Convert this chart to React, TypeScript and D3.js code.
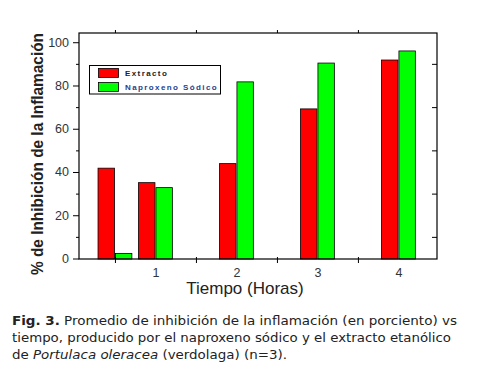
import * as d3 from "d3";

const times = [0.5, 1, 2, 3, 4];
const extracto = [42, 35.3, 44.1, 69.4, 92];
const naproxeno = [2.6, 33, 81.9, 90.6, 96.2];
const xTickLabels = [1, 2, 3, 4];
const xMinorTicks = [0.5, 1.5, 2.5, 3.5];
const yTicks = [0, 20, 40, 60, 80, 100];
const yMinorTicks = [10, 30, 50, 70, 90];
const seriesNames = ["Extracto", "Naproxeno Sódico"];
const seriesColors = ["#ff0000", "#00ff00"];

function App() {
    const plot = { left: 79, top: 33, right: 437, bottom: 259 }
    const xScale = d3.scaleLinear().domain([0.05, 4.47]).range([plot.left, plot.right]);
    const yScale = d3.scaleLinear().domain([0, 104.5]).range([plot.bottom, plot.top]);
    const barW = xScale(0.215) - xScale(0);
    const font = "Liberation Sans, Arial, sans-serif";

    const rows = times.map((t, i) => ({ t, values: [extracto[i], naproxeno[i]] }));

    return (
        <svg width={485} height={371} style={{ position: "absolute", left: 0, top: 0, background: "#ffffff" }}>
            {/* bars */}
            {rows.map((r) => r.values.map((v, j) => {
                const x0 = xScale(r.t) - barW + j * barW;
                return (
                    <g key={`${r.t}-${j}`}>
                        <rect x={x0} y={yScale(v)} width={barW - 1} height={plot.bottom - yScale(v)} fill={seriesColors[j]} stroke="#000" strokeWidth={0.8}/>
                    </g>
                )
            }))}

            {/* frame */}
            <rect x={plot.left} y={plot.top} width={plot.right - plot.left} height={plot.bottom - plot.top} fill="none" stroke="#000" strokeWidth={1.2}/>

            {/* left axis */}
            {yTicks.map((tick) => (
                <g key={tick}>
                    <line x1={plot.left - 6} x2={plot.left} y1={yScale(tick)} y2={yScale(tick)} stroke="#000"/>
                    <text x={plot.left - 10} y={yScale(tick)} textAnchor="end" dominantBaseline="central" fontSize={12.5} fill="#333" fontFamily={font}>{tick}</text>
                </g>
            ))}
            {yMinorTicks.map((tick) => (
                <g key={tick}>
                    <line x1={plot.left - 3} x2={plot.left} y1={yScale(tick)} y2={yScale(tick)} stroke="#000"/>
                    <line x1={plot.right - 5} x2={plot.right} y1={yScale(tick)} y2={yScale(tick)} stroke="#000"/>
                </g>
            ))}

            {/* bottom / top axis */}
            {xMinorTicks.map((tick) => (
                <g key={tick}>
                    <line x1={xScale(tick)} x2={xScale(tick)} y1={plot.bottom - 2} y2={plot.bottom + 4} stroke="#000"/>
                    <line x1={xScale(tick)} x2={xScale(tick)} y1={plot.top - 3} y2={plot.top} stroke="#000"/>
                </g>
            ))}
            {xTickLabels.map((tick) => (
                <text key={tick} x={xScale(tick)} y={277} textAnchor="middle" fontSize={12.5} fill="#333" fontFamily={font}>{tick}</text>
            ))}

            {/* legend */}
            <rect x={89.5} y={65.5} width={131} height={28.5} fill="#fff" stroke="#000" strokeWidth={1}/>
            {seriesNames.map((name, i) => (
                <g key={name}>
                    <rect x={98.5} y={68.5 + i * 14} width={20} height={9} fill={seriesColors[i]} stroke="#000" strokeWidth={0.8}/>
                    <text x={125} y={73 + i * 14} dominantBaseline="central" fontSize={8} letterSpacing={1.4} fill={i === 0 ? "#222" : "#1f3f8f"} fontFamily={font} fontWeight="bold">{name}</text>
                </g>
            ))}

            {/* axis titles */}
            <text transform={`translate(43, 154) rotate(-90)`} textAnchor="middle" fontSize={16.5} fill="#222" fontFamily={font} fontWeight="bold" textLength={242} lengthAdjust="spacingAndGlyphs">% de Inhibición de la Inflamación</text>
            <text x={245} y={294} textAnchor="middle" fontSize={17} fill="#222" fontFamily={font}>Tiempo (Horas)</text>

            {/* caption */}
            <g fontFamily="DejaVu Sans, Verdana, sans-serif" fontSize={13} fill="#222">
                <text x={12} y={325} textLength={445} lengthAdjust="spacingAndGlyphs"><tspan fontWeight="bold">Fig. 3.</tspan> Promedio de inhibición de la inflamación (en porciento) vs</text>
                <text x={12} y={342} textLength={439} lengthAdjust="spacingAndGlyphs">tiempo, producido por el naproxeno sódico y el extracto etanólico</text>
                <text x={12} y={359} textLength={275} lengthAdjust="spacingAndGlyphs">de <tspan fontStyle="italic">Portulaca oleracea</tspan> (verdolaga) (n=3).</text>
            </g>
        </svg>
    )
}

export default App;
